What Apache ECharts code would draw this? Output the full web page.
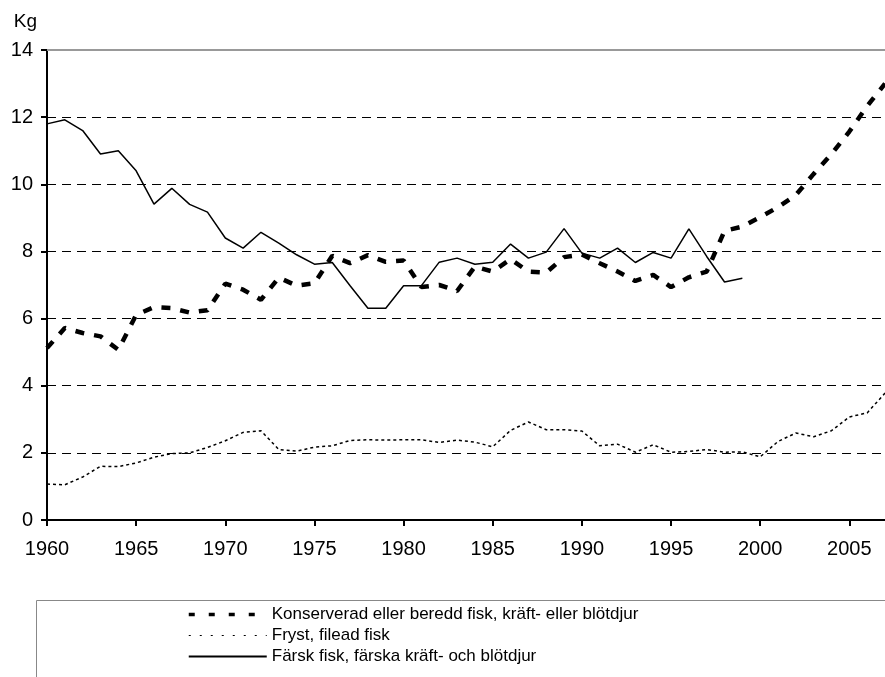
<!DOCTYPE html>
<html>
<head>
<meta charset="utf-8">
<script src="https://cdn.jsdelivr.net/npm/echarts@6/dist/echarts.min.js"></script>
<style>
  html, body { margin: 0; padding: 0; background: #fff; }
  #chart { width: 885px; height: 677px; }
</style>
</head>
<body>
<div id="chart"></div>
<script>
const years = [
  1960, 1961, 1962, 1963, 1964, 1965, 1966, 1967, 1968, 1969,
  1970, 1971, 1972, 1973, 1974, 1975, 1976, 1977, 1978, 1979,
  1980, 1981, 1982, 1983, 1984, 1985, 1986, 1987, 1988, 1989,
  1990, 1991, 1992, 1993, 1994, 1995, 1996, 1997, 1998, 1999,
  2000, 2001, 2002, 2003, 2004, 2005, 2006, 2007
];

const konserverad = [
  5.12, 5.72, 5.57, 5.47, 5.07, 6.11, 6.34, 6.31, 6.18, 6.25,
  7.04, 6.86, 6.56, 7.22, 6.98, 7.05, 7.87, 7.65, 7.89, 7.69,
  7.73, 6.94, 7.0, 6.82, 7.55, 7.4, 7.77, 7.4, 7.37, 7.83,
  7.91, 7.65, 7.4, 7.12, 7.3, 6.94, 7.23, 7.4, 8.61, 8.74,
  9.02, 9.32, 9.68, 10.31, 10.9, 11.57, 12.33, 13.0
];

const fryst = [
  1.07, 1.05, 1.28, 1.6, 1.59, 1.7, 1.87, 1.98, 2.0, 2.16,
  2.36, 2.61, 2.66, 2.1, 2.05, 2.17, 2.21, 2.37, 2.39, 2.38,
  2.39, 2.39, 2.31, 2.38, 2.32, 2.18, 2.67, 2.92, 2.69, 2.69,
  2.65, 2.21, 2.26, 2.02, 2.24, 2.02, 2.04, 2.1, 2.02, 2.03,
  1.88, 2.34, 2.59, 2.48, 2.66, 3.07, 3.19, 3.78
];

// only reported up to 1999
const farsk = [
  11.8, 11.92, 11.6, 10.9, 11.0, 10.4, 9.41, 9.88, 9.4, 9.17,
  8.4, 8.1, 8.57, 8.25, 7.9, 7.62, 7.67, 6.98, 6.31, 6.31,
  6.98, 6.98, 7.68, 7.8, 7.62, 7.68, 8.22, 7.8, 7.98, 8.68,
  7.95, 7.8, 8.1, 7.67, 7.97, 7.8, 8.67, 7.85, 7.09, 7.2
];

const names = [
  'Konserverad eller beredd fisk, kräft- eller blötdjur',
  'Fryst, filead fisk',
  'Färsk fisk, färska kräft- och blötdjur'
];

const font = 'Liberation Sans, Arial, sans-serif';

function pairs (values) {
  return values.map((v, i) => [years[i], v]);
}

const chart = echarts.init(document.getElementById('chart'));

chart.setOption({
  animation: false,
  textStyle: {fontFamily: font, color: '#000'},
  grid: {left: 47, right: 0, top: 50, bottom: 157},
  xAxis: [{
    type: 'value',
    min: 1960,
    max: 2007,
    interval: 5,
    axisLine: {lineStyle: {color: '#000', width: 2}},
    axisTick: {length: 6, lineStyle: {color: '#000', width: 2}},
    axisLabel: {
      fontSize: 20,
      margin: 19,
      color: '#000',
      fontFamily: font,
      showMaxLabel: false,
      formatter: (v) => String(v)
    },
    splitLine: {show: false}
  }, {
    type: 'value',
    position: 'top',
    min: 1960,
    max: 2007,
    axisLine: {show: true, lineStyle: {color: '#999', width: 2}},
    axisTick: {show: false},
    axisLabel: {show: false},
    splitLine: {show: false}
  }],
  yAxis: {
    type: 'value',
    min: 0,
    max: 14,
    interval: 2,
    name: 'Kg',
    nameGap: 19,
    nameTextStyle: {fontSize: 19, color: '#000', align: 'right', padding: [0, 10, 0, 0], fontFamily: font},
    axisLine: {show: true, lineStyle: {color: '#000', width: 2}},
    axisTick: {show: true, length: 6, lineStyle: {color: '#000', width: 2}},
    axisLabel: {fontSize: 20, margin: 14, color: '#000', fontFamily: font},
    splitLine: {
      show: true,
      showMaxLine: false,
      lineStyle: {color: '#000', width: 1, type: [9, 6]}
    }
  },
  legend: {
    orient: 'vertical',
    left: 187,
    top: 606,
    padding: 0,
    itemGap: 4,
    itemWidth: 78,
    itemHeight: 14,
    itemStyle: {opacity: 0},
    textStyle: {fontSize: 17, color: '#000', fontFamily: font},
    data: [
      {name: names[0], lineStyle: {width: 3.5, type: [6, 14]}},
      {name: names[1], lineStyle: {width: 1, type: [2, 9]}},
      {name: names[2]}
    ]
  },
  graphic: [{
    type: 'rect',
    left: 34,
    top: 598,
    shape: {width: 900, height: 100},
    style: {fill: 'none', stroke: '#888', lineWidth: 1},
    silent: true
  }],
  series: [{
    name: names[0],
    type: 'line',
    symbol: 'none',
    data: pairs(konserverad),
    lineStyle: {color: '#000', width: 4.5, type: [9, 10]},
    itemStyle: {color: '#000'}
  }, {
    name: names[1],
    type: 'line',
    symbol: 'none',
    data: pairs(fryst),
    lineStyle: {color: '#000', width: 1.5, type: [3, 3]},
    itemStyle: {color: '#000'}
  }, {
    name: names[2],
    type: 'line',
    symbol: 'none',
    data: pairs(farsk),
    lineStyle: {color: '#000', width: 1.5, type: 'solid'},
    itemStyle: {color: '#000'}
  }]
});
</script>
</body>
</html>
